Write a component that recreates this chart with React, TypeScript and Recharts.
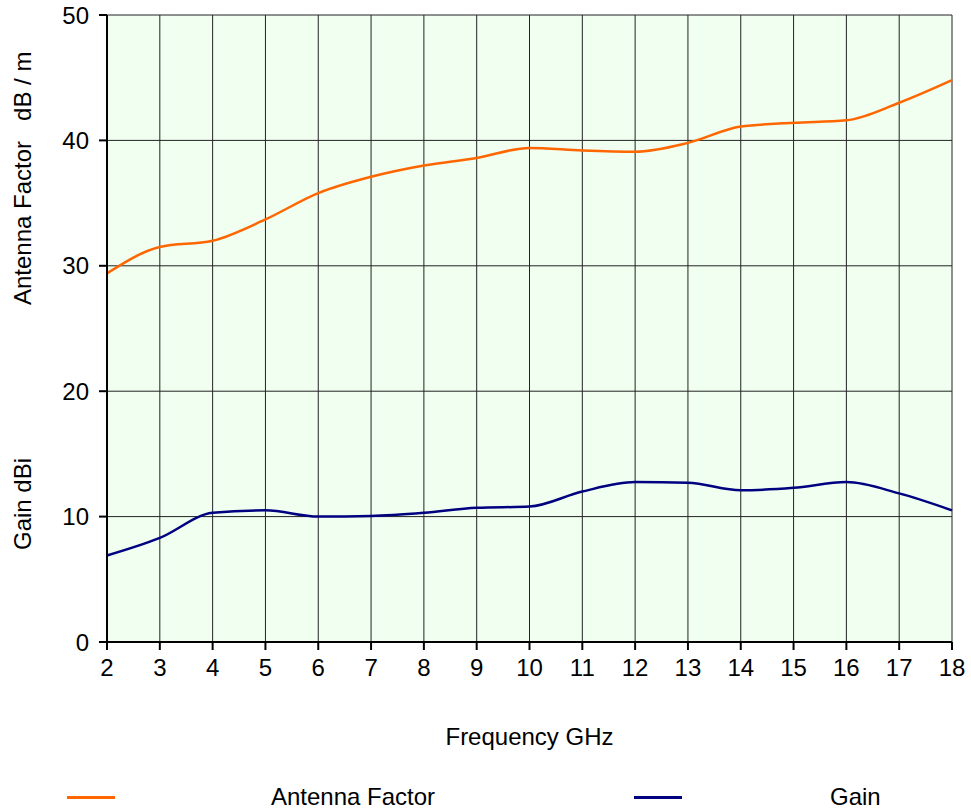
import React from "react";
import { LineChart, Line, XAxis, YAxis, CartesianGrid, Label } from "recharts";

const frequencies = [2, 3, 4, 5, 6, 7, 8, 9, 10, 11, 12, 13, 14, 15, 16, 17, 18];
const antennaFactor = [29.4, 31.5, 32.0, 33.7, 35.8, 37.1, 38.0, 38.6, 39.4, 39.2, 39.1, 39.8, 41.1, 41.4, 41.6, 43.0, 44.8];
const gain = [6.9, 8.3, 10.3, 10.5, 10.0, 10.05, 10.3, 10.7, 10.8, 12.0, 12.75, 12.7, 12.1, 12.3, 12.75, 11.85, 10.5];
const xTicks = [2, 3, 4, 5, 6, 7, 8, 9, 10, 11, 12, 13, 14, 15, 16, 17, 18];
const yTicks = [0, 10, 20, 30, 40, 50];
const seriesNames = ["Antenna Factor", "Gain"];
const seriesColors = ["#FF6600", "#000080"];

const data = frequencies.map((f, i) => ({ f, af: antennaFactor[i], gain: gain[i] }));

const FONT = "'Liberation Sans', Arial, sans-serif";

const YLabel = () => (
  <g>
    <text
      x={0}
      y={0}
      transform="translate(31,305) rotate(-90)"
      textAnchor="start"
      fontSize={24}
      fontFamily={FONT}
      fill="#000"
      style={{ whiteSpace: "pre" }}
    >
      {"Antenna Factor\u00A0\u00A0\u00A0dB / m"}
    </text>
    <text
      x={0}
      y={0}
      transform="translate(31,550) rotate(-90)"
      textAnchor="start"
      fontSize={24}
      fontFamily={FONT}
      fill="#000"
    >
      Gain dBi
    </text>
  </g>
);

export default function App() {
  return (
    <div style={{ position: "absolute", left: 0, top: 0, width: 971, height: 809, background: "#fff", fontFamily: FONT, overflow: "hidden" }}>
      <LineChart
        width={971}
        height={809}
        data={data}
        margin={{ top: 15, right: 19, bottom: 107, left: 0 }}
      >
        <CartesianGrid
          stroke="#222"
          strokeWidth={1}
          fill="#F0FFF0"
          fillOpacity={1}
          horizontalValues={yTicks}
          verticalValues={xTicks}
        />
        <XAxis
          dataKey="f"
          type="number"
          domain={[2, 18]}
          ticks={xTicks}
          interval={0}
          height={60}
          tickSize={8}
          tickMargin={9}
          stroke="#000"
          strokeWidth={2}
          tick={{ fill: "#000", fontSize: 24, fontFamily: FONT }}
        >
          <Label
            value="Frequency GHz"
            position="bottom"
            offset={26}
            style={{ fontSize: 24, fontFamily: FONT, fill: "#000" }}
          />
        </XAxis>
        <YAxis
          type="number"
          domain={[0, 50]}
          ticks={yTicks}
          interval={0}
          width={107}
          tickSize={8}
          tickMargin={10}
          stroke="#000"
          strokeWidth={2}
          tick={{ fill: "#000", fontSize: 24, fontFamily: FONT }}
        >
          <Label content={() => <YLabel />} />
        </YAxis>
        <Line
          type="monotone"
          dataKey="af"
          name={seriesNames[0]}
          stroke={seriesColors[0]}
          strokeWidth={2.5}
          dot={false}
          isAnimationActive={false}
        />
        <Line
          type="monotone"
          dataKey="gain"
          name={seriesNames[1]}
          stroke={seriesColors[1]}
          strokeWidth={2.5}
          dot={false}
          isAnimationActive={false}
        />
      </LineChart>
      <div style={{ position: "absolute", left: 0, top: 0, width: 971, height: 809, pointerEvents: "none" }}>
        <div style={{ position: "absolute", left: 67, top: 796, width: 48, height: 3, background: seriesColors[0] }} />
        <div style={{ position: "absolute", left: 271, top: 785, fontSize: 24, lineHeight: "24px", color: "#000", whiteSpace: "nowrap" }}>
          {seriesNames[0]}
        </div>
        <div style={{ position: "absolute", left: 634, top: 796, width: 48, height: 3, background: seriesColors[1] }} />
        <div style={{ position: "absolute", left: 830, top: 785, fontSize: 24, lineHeight: "24px", color: "#000", whiteSpace: "nowrap" }}>
          {seriesNames[1]}
        </div>
      </div>
    </div>
  );
}
